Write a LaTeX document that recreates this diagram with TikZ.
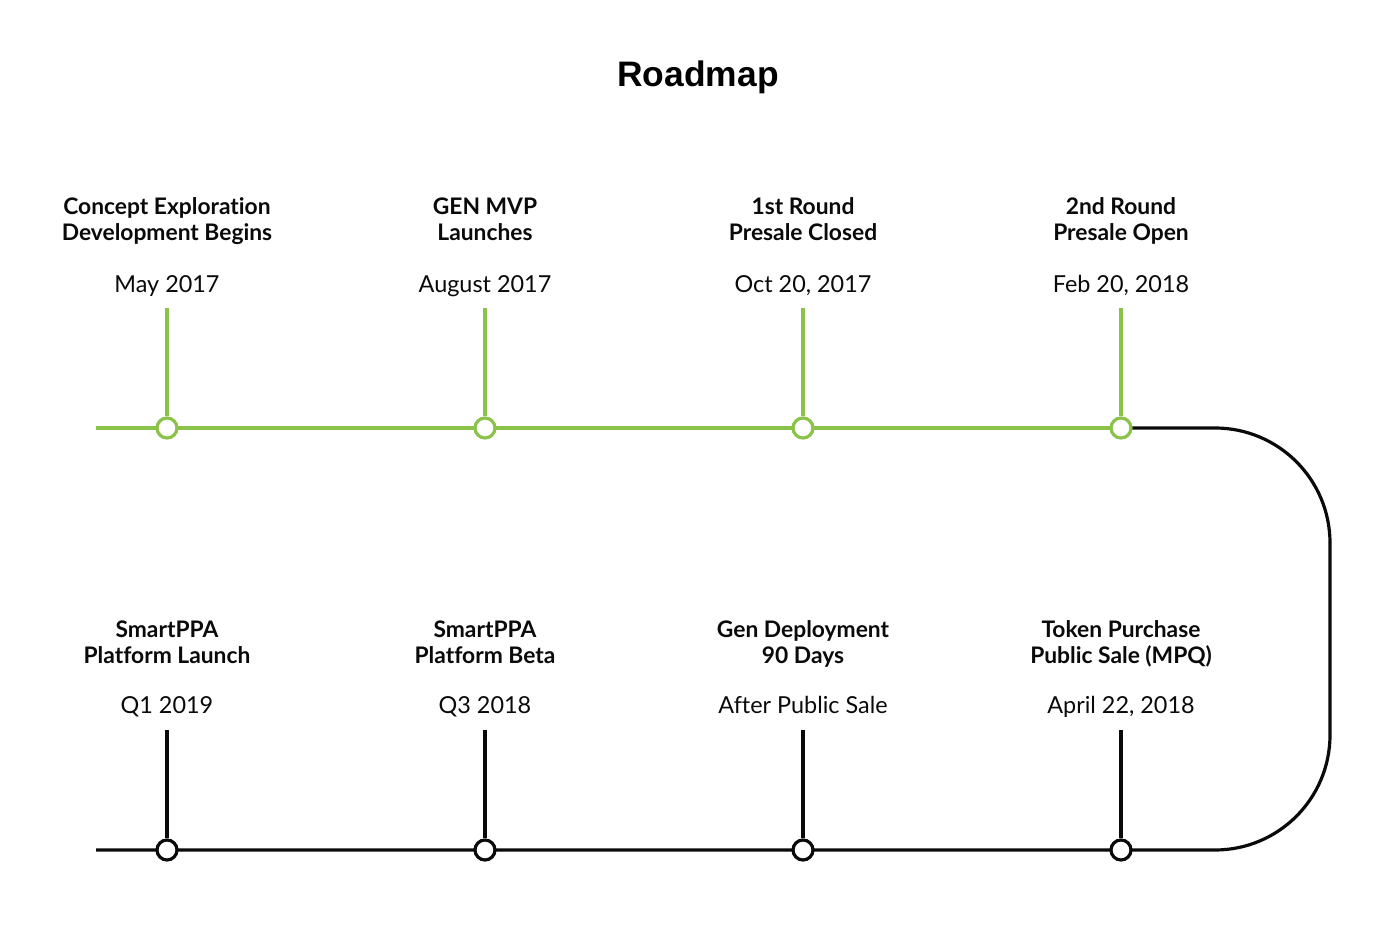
\documentclass[tikz,border=0pt]{standalone}
\usepackage{fontspec}
\setmainfont[Ligatures=NoCommon]{Lato}
\newfontfamily\titlefont{Liberation Sans}
\definecolor{lgreen}{RGB}{139,195,74}
\definecolor{tblack}{RGB}{10,10,10}
\begin{document}
\begin{tikzpicture}[x=0.5pt,y=-0.5pt,
  head/.style={font=\fontsize{11.4}{13}\selectfont\bfseries, align=center, text=tblack, anchor=base},
  datelbl/.style={font=\fontsize{11.7}{13}\selectfont, text=tblack, anchor=base},
  gline/.style={draw=lgreen, line width=1.6pt},
  bline/.style={draw=tblack, line width=1.6pt},
  gdot/.style={circle, draw=lgreen, fill=white, line width=1.6pt, minimum size=10pt, inner sep=0pt},
  bdot/.style={circle, draw=tblack, fill=white, line width=1.6pt, minimum size=10pt, inner sep=0pt}]
\useasboundingbox (0,0) rectangle (1398,946);
\fill[white] (0,0) rectangle (1398,946);
\node[font=\titlefont\fontsize{17.7}{22}\selectfont\bfseries] (title) at (698,77) {Roadmap};

% lines
\coordinate (tl) at (96,428);
\coordinate (bl) at (96,850);
\coordinate (t4) at (1121,428);
\coordinate (b4) at (1121,850);
\draw[gline] (tl) -- (t4);
\draw[bline] (t4) -- (1215,428) arc[start angle=-90, end angle=0, radius=115] -- (1330,735) arc[start angle=0, end angle=90, radius=115] -- (bl);

% top milestones
\foreach \i/\x/\a/\b/\d in {1/167/Concept Exploration/Development Begins/May 2017,
  2/485/GEN MVP/Launches/August 2017,
  3/803/1st Round/Presale Closed/{Oct 20, 2017},
  4/1121/2nd Round/Presale Open/{Feb 20, 2018}}{
  \node[head] (th\i) at (\x,241) {\a\\\b};
  \node[datelbl] (td\i) at (\x,293) {\d};
  \coordinate (ts\i) at (\x,308);
  \node[gdot] (tc\i) at (\x,428) {};
  \draw[gline] (ts\i) -- (tc\i);
}
% bottom milestones
\foreach \i/\x/\a/\b/\d in {1/167/SmartPPA/Platform Launch/Q1 2019,
  2/485/SmartPPA/Platform Beta/Q3 2018,
  3/803/Gen Deployment/90 Days/After Public Sale,
  4/1121/Token Purchase/Public Sale (MPQ)/{April 22, 2018}}{
  \node[head] (bh\i) at (\x,663) {\a\\\b};
  \node[datelbl] (bd\i) at (\x,713) {\d};
  \coordinate (bs\i) at (\x,730);
  \node[bdot] (bc\i) at (\x,850) {};
  \draw[bline] (bs\i) -- (bc\i);
}
\end{tikzpicture}
\end{document}
